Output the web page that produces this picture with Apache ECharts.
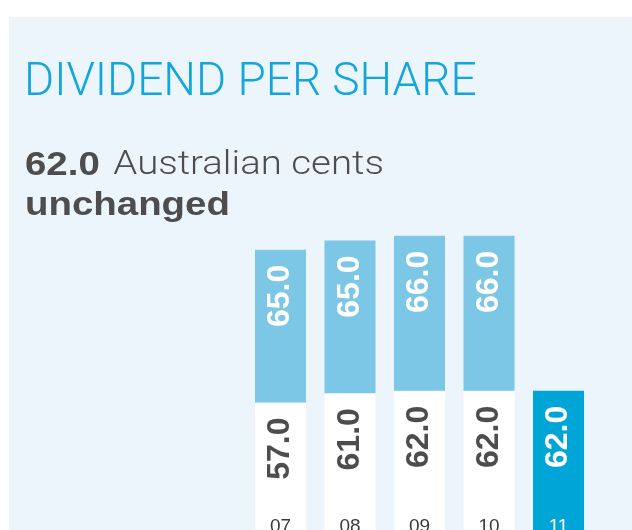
<!DOCTYPE html>
<html style="height: 100%">
<head>
    <meta charset="utf-8">
    <title>Dividend per share</title>
    <script src="https://cdn.jsdelivr.net/npm/echarts@6/dist/echarts.min.js"></script>
</head>
<body style="height: 100%; margin: 0; background: #fff; overflow: hidden">
    <!-- the chart runs a few px past the bottom of the window, like the cropped original -->
    <div id="chart" style="width: 632px; height: 537px"></div>
    <script>
        // data
        const years = ['07', '08', '09', '10', '11'];
        const finalDividend = [57.0, 61.0, 62.0, 62.0, 62.0];
        const interimDividend = [65.0, 65.0, 66.0, 66.0, null];
        const currentYear = '11';

        const darkText = '#4d4d4d';
        const lightBlue = '#7cc6e6';
        const strongBlue = '#00a5d7';
        const sans = 'Liberation Sans, Arial, sans-serif';

        const barLabel = {
            show: true,
            position: 'insideTop',
            distance: 15,
            rotate: 90,
            align: 'right',
            verticalAlign: 'middle',
            fontFamily: sans,
            fontWeight: 'bold',
            fontSize: 32,
            formatter: p => p.value.toFixed(1)
        };

        const bottomData = finalDividend.map((v, i) => {
            if (years[i] !== currentYear) return v;
            return {
                value: v,
                itemStyle: { color: strongBlue },
                label: { color: '#fff' }
            };
        });
        const topData = interimDividend.map(v => (v == null ? '-' : v));

        const chart = echarts.init(document.getElementById('chart'), null, { renderer: 'canvas' });
        chart.setOption({
            animation: false,
            graphic: [{
                type: 'rect',
                z: -10,
                shape: { x: 9, y: 17, width: 640, height: 540 },
                style: { fill: '#edf5fc' }
            }, {
                type: 'text',
                x: 24,
                y: 60,
                style: {
                    text: 'DIVIDEND PER SHARE',
                    fontFamily: 'Roboto',
                    fontWeight: 300,
                    fontSize: 46,
                    fill: '#12a6da',
                    verticalAlign: 'top'
                }
            }, {
                type: 'text',
                x: 25,
                y: 145.5,
                scaleX: 1.13,
                style: {
                    text: '{b|62.0}{s| }{n|Australian cents}\n{b|unchanged}',
                    verticalAlign: 'top',
                    rich: {
                        b: {
                            fontFamily: sans,
                            fontWeight: 'bold',
                            fontSize: 34,
                            lineHeight: 40,
                            fill: darkText
                        },
                        s: { width: 12, fontSize: 34, lineHeight: 40 },
                        n: {
                            fontFamily: 'Roboto',
                            fontWeight: 300,
                            fontSize: 34,
                            lineHeight: 40,
                            fill: darkText
                        }
                    }
                }
            }],
            grid: { left: 245.75, right: 38.75, top: 207.5, bottom: 0.5 },
            xAxis: {
                type: 'category',
                z: 10,
                data: years.map(y => (y === currentYear ? { value: y, textStyle: { color: '#fff' } } : y)),
                axisLine: { show: false },
                axisTick: { show: false },
                axisLabel: {
                    inside: true,
                    margin: 0,
                    fontSize: 19,
                    fontFamily: sans,
                    color: '#3a3a3a'
                }
            },
            yAxis: {
                type: 'value',
                min: 0,
                max: 140,
                show: false,
                splitLine: { show: false }
            },
            series: [{
                type: 'bar',
                stack: 'dps',
                barWidth: 51,
                data: bottomData,
                itemStyle: { color: '#ffffff' },
                label: Object.assign({}, barLabel, { color: darkText })
            }, {
                type: 'bar',
                stack: 'dps',
                barWidth: 51,
                data: topData,
                itemStyle: { color: lightBlue },
                label: Object.assign({}, barLabel, { color: '#fff' })
            }]
        });
    </script>
</body>
</html>
